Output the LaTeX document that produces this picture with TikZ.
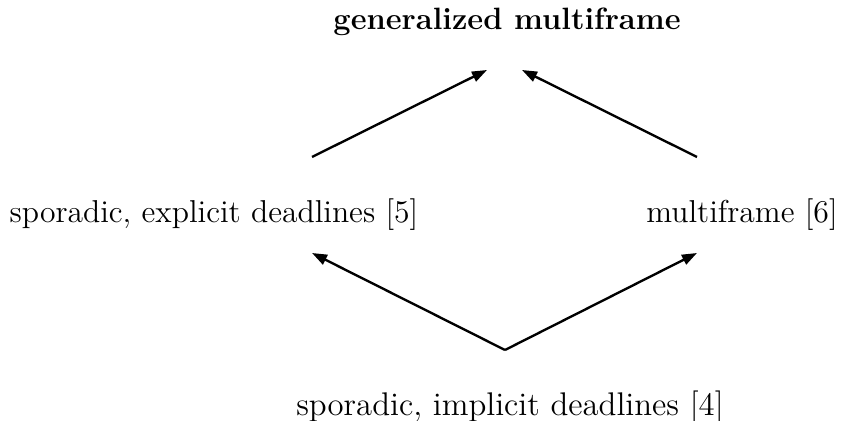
\documentclass[tikz,border=0pt]{standalone}
\usetikzlibrary{arrows.meta}
\begin{document}
\begin{tikzpicture}[x=0.36pt,y=-0.36pt,
  lbl/.style={inner sep=0pt,font=\fontsize{11.4}{13}\selectfont},
  arr/.style={line width=0.85pt,-{Triangle[length=5.4pt,width=3.8pt]}}]
\useasboundingbox (0,0) rectangle (842,421);
\node[lbl,font=\fontsize{11.1}{13}\selectfont\bfseries] (top) at (507,22) {generalized multiframe};
\node[lbl] (left) at (214,215) {sporadic, explicit deadlines [5]};
\node[lbl] (right) at (742,215) {multiframe [6]};
\node[lbl,font=\fontsize{11.8}{13}\selectfont] (bot) at (510,407) {sporadic, implicit deadlines [4]};
\coordinate (tl) at (487,70);
\coordinate (tr) at (522,70);
\coordinate (ls) at (312,157);
\coordinate (rs) at (697,157);
\coordinate (le) at (312,253);
\coordinate (re) at (697,253);
\coordinate (apex) at (505,350);
\draw[arr] (ls) -- (tl);
\draw[arr] (rs) -- (tr);
\draw[arr] (apex) -- (le);
\draw[arr] (apex) -- (re);
\end{tikzpicture}
\end{document}
